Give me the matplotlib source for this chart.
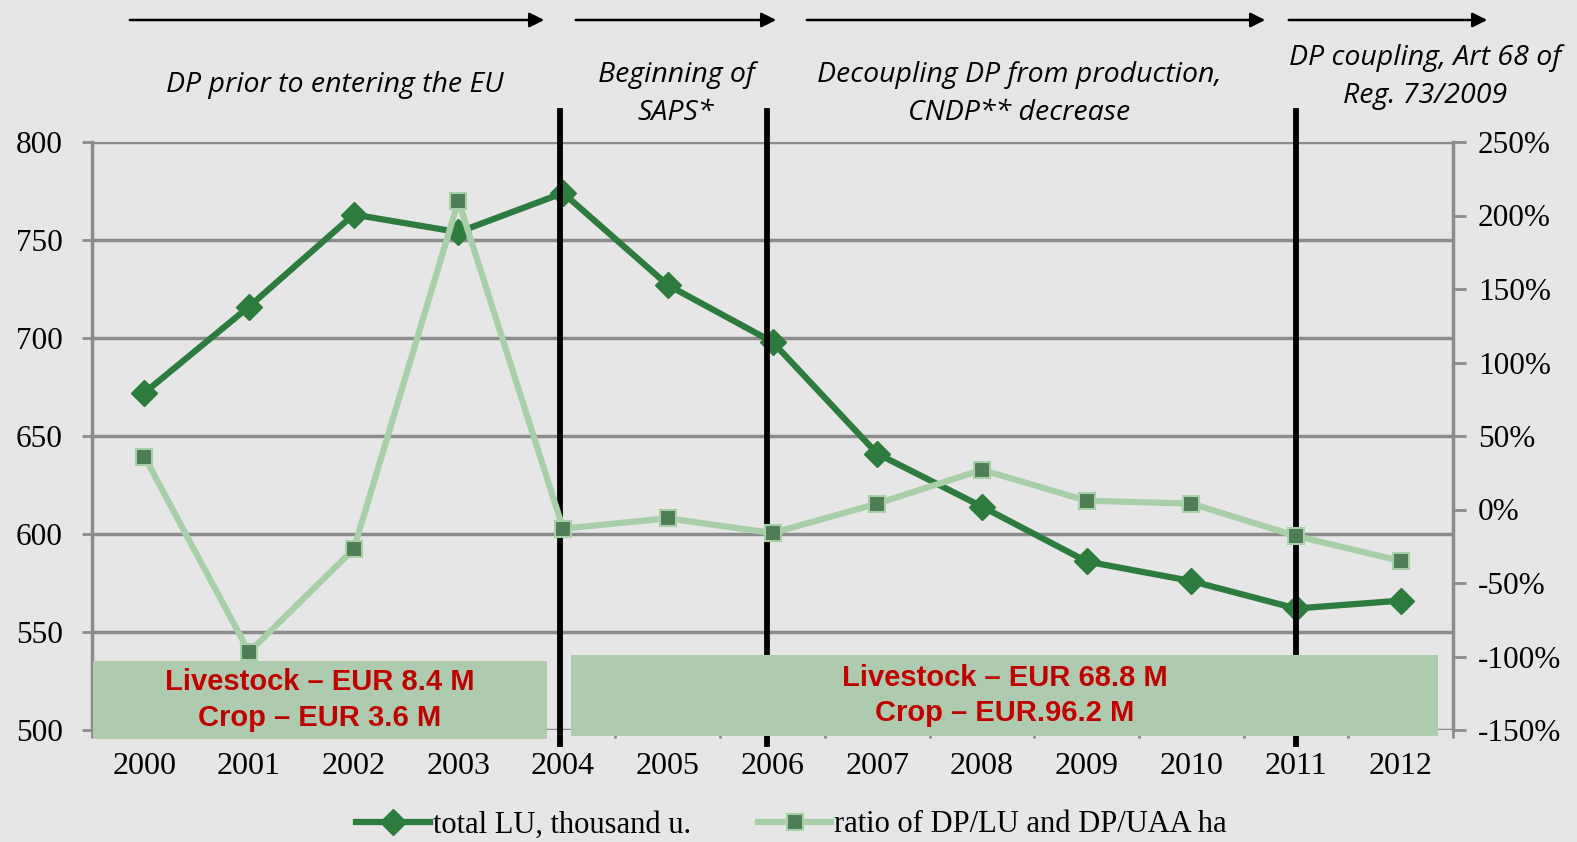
import matplotlib.pyplot as plt
import numpy as np

# datos
years = ['2000', '2001', '2002', '2003', '2004', '2005', '2006',
         '2007', '2008', '2009', '2010', '2011', '2012']
total_lu = [672, 716, 763, 754, 774, 727, 698, 641, 614, 586, 576, 562, 566]
ratio_dp = [36, -97, -27, 210, -13, -6, -16, 4, 27, 6, 4, -18, -35]

period_labels = ['DP prior to entering the EU', 'Beginning of\nSAPS*',
                 'Decoupling DP from production,\nCNDP** decrease',
                 'DP coupling, Art 68 of\nReg. 73/2009']
box_labels = ['Livestock \u2013 EUR 8.4 M\nCrop \u2013 EUR 3.6 M',
              'Livestock \u2013 EUR 68.8 M\nCrop \u2013 EUR.96.2 M']

W, H = 1577, 842
BG = '#e6e6e6'
DARK = '#2e7b40'
LIGHT = '#a9cfaa'
GRID = '#8c8c8c'

plt.rcParams['font.family'] = ['Liberation Serif', 'DejaVu Serif']

fig = plt.figure(figsize=(W / 100, H / 100), dpi=100, facecolor=BG)
ax = fig.add_axes([92 / W, 1 - 730 / H, (1453 - 92) / W, (730 - 142) / H])
ax.set_facecolor(BG)
ax2 = ax.twinx()

x = np.arange(len(years))

# lineas verticales de periodos (debajo de las cajas)
for xv in [3.97, 5.95, 11.0]:
    ax.axvline(xv, ymin=-0.024, ymax=1.053, color='black', lw=4.2,
               clip_on=False, zorder=3)

l1, = ax2.plot(x, total_lu, color=DARK, lw=4.5, marker='D', ms=13,
               mfc=DARK, mec=DARK, zorder=5, label='total LU, thousand u.')
l2, = ax.plot(x, ratio_dp, color=LIGHT, lw=4.5, marker='s', ms=11,
              mfc='#4f7d55', mec=LIGHT, mew=1.5, zorder=4,
              label='ratio of DP/LU and DP/UAA ha')

# eje izquierdo = LU, eje derecho = porcentaje
ax.yaxis.tick_right()
ax2.yaxis.tick_left()
ax.set_ylim(-150, 250)
ax.set_yticks(np.arange(-150, 251, 50))
ax.set_yticklabels([f'{v}%' for v in range(-150, 251, 50)])
ax2.set_ylim(500, 800)
ax2.set_yticks(np.arange(500, 801, 50))
ax.set_xlim(-0.5, len(years) - 0.5)
ax.set_xticks(x)
ax.set_xticklabels(years)
ax.set_xticks(np.arange(-0.5, len(years), 1), minor=True)
ax.tick_params(axis='x', which='major', length=0, pad=16, labelsize=23)
ax.tick_params(axis='x', which='minor', length=6, width=2, color=GRID)
ax.tick_params(axis='y', length=9, width=2, color=GRID, labelsize=22.5, pad=9)
ax2.tick_params(axis='y', length=7, width=2, color=GRID, labelsize=22.5, pad=14)

# cuadricula basada en el eje LU
for v in np.arange(500, 801, 50):
    ax2.axhline(v, color=GRID, lw=2.5, zorder=1)
for a in (ax, ax2):
    for s in a.spines.values():
        s.set_visible(False)
for side in ('left', 'right'):
    ax2.spines[side].set_visible(True)
    ax2.spines[side].set_color(GRID)
    ax2.spines[side].set_linewidth(2.5)
ax.set_zorder(ax2.get_zorder() + 1)
ax.patch.set_visible(False)

# cajas de importes
boxes = [(0.001, -0.015, 0.333, 0.133), (0.352, -0.010, 0.637, 0.137)]
for (bx, by, bw, bh), txt in zip(boxes, box_labels):
    ax.add_patch(plt.Rectangle((bx, by), bw, bh, transform=ax.transAxes,
                               facecolor='#aecbb0', edgecolor='none',
                               clip_on=False, zorder=6))
    ax.text(bx + bw / 2, by + bh / 2, txt,
            transform=ax.transAxes, ha='center', va='center',
            color='#c00000', fontsize=21, fontweight='bold',
            family=['Liberation Sans', 'DejaVu Sans'],
            linespacing=1.35, zorder=7)

# flechas y textos de periodos
arrows = [(127, 547), (573, 779), (804, 1268), (1286, 1490)]
for x0, x1 in arrows:
    fig.add_artist(plt.matplotlib.patches.FancyArrowPatch(
        (x0 / W, 1 - 20 / H), (x1 / W, 1 - 20 / H),
        transform=fig.transFigure, arrowstyle='-|>', mutation_scale=22,
        color='black', lw=1.8))

text_pos = [(335, 85), (676, 94), (1019, 94), (1425, 77)]
for (px, py), txt in zip(text_pos, period_labels):
    fig.text(px / W, 1 - py / H, txt, ha='center', va='center',
             fontsize=20.5, style='italic', linespacing=1.5,
             family=['Open Sans', 'DejaVu Sans'])

fig.legend(handles=[l1, l2], loc='center', ncol=2, frameon=False,
           bbox_to_anchor=(0.502, 1 - 825 / H), fontsize=22, handlelength=2.4,
           handletextpad=0.1, columnspacing=2.2, borderpad=0)

fig.savefig('out.png', dpi=100, facecolor=BG)
